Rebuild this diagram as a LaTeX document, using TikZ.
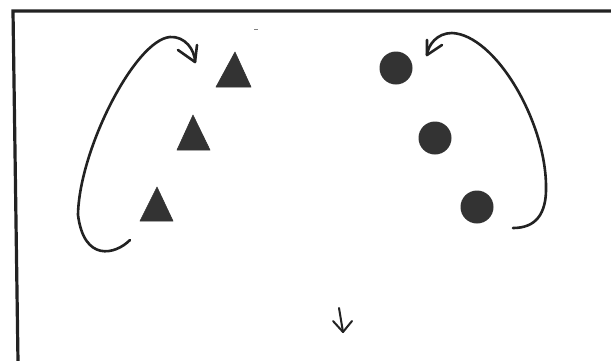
\documentclass[tikz,border=0pt]{standalone}
\usetikzlibrary{shapes.geometric}
\definecolor{ink}{HTML}{222222}
\definecolor{shape}{HTML}{333333}
\tikzset{
  frame/.style={line width=3.2pt, draw=ink},
  curve/.style={line width=2.6pt, draw=ink, line cap=round, line join=round},
  tri/.style={fill=shape, draw=shape, line width=0.6pt, line join=round},
  dot/.style={circle, fill=shape, draw=none, minimum size=33pt, inner sep=0pt}
}
\begin{document}
\begin{tikzpicture}[x=1pt,y=-1pt]
\useasboundingbox (0,0) rectangle (611,360);
\fill[white] (0,0) rectangle (611,360);
% frame
\draw[frame] (18,362) -- (13,11) -- (613,11);
% tiny mark
\draw[line width=1pt, draw=gray] (254,29) -- (258,29);
% triangles
\fill[tri] (235,52) -- (251,87) -- (216,87) -- cycle;
\fill[tri] (193,115) -- (210,150) -- (177,150) -- cycle;
\fill[tri] (157,187) -- (173,221) -- (140,221) -- cycle;
% circles
\node[dot] (c1) at (396,68) {};
\node[dot] (c2) at (435,138) {};
\node[dot] (c3) at (477,207) {};
% left curved arrow
\coordinate (ls) at (130,240);
\coordinate (lt) at (195,62);
\draw[curve] (ls) .. controls (115,255) and (84,262) .. (78,215)
  .. controls (79,150) and (135,40) .. (170,37)
  .. controls (185,36) and (195,50) .. (lt);
\draw[curve] (178,50) -- (lt) -- (197,45);
% right curved arrow
\coordinate (rs) at (513,228);
\coordinate (rt) at (427,55);
\draw[curve] (rs) .. controls (535,228) and (547,215) .. (546,185)
  .. controls (545,120) and (495,35) .. (452,33)
  .. controls (437,33) and (428,45) .. (rt);
\draw[curve] (427,40) -- (rt) -- (442,45);
% small down arrow
\coordinate (ds) at (339,308);
\coordinate (de) at (343,332);
\draw[curve, line width=2pt] (ds) -- (de);
\draw[curve, line width=2pt] (333,321) -- (de) -- (352,321);
\end{tikzpicture}
\end{document}
